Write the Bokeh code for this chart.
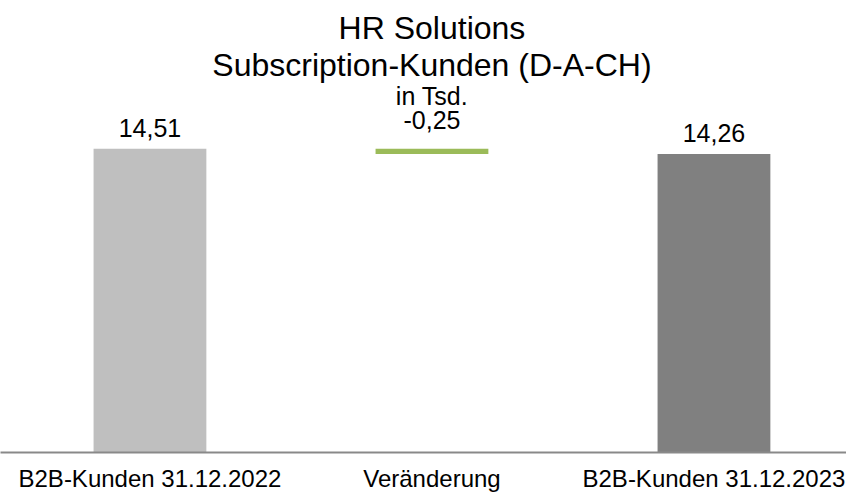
from bokeh.plotting import figure
from bokeh.models import Range1d, FixedTicker, Label, ColumnDataSource
from bokeh.core.properties import value
from bokeh.embed import file_html
from bokeh.resources import INLINE

# ---- data ----
categories = ["B2B-Kunden 31.12.2022", "Veränderung", "B2B-Kunden 31.12.2023"]
start_value = 14.51
change = -0.25
end_value = 14.26
label_texts = ["14,51", "-0,25", "14,26"]
title_lines = ["HR Solutions", "Subscription-Kunden (D-A-CH)", "in Tsd."]

# ---- style ----
FONT = "Liberation Sans"
colors = ["#BFBFBF", "#9BBB59", "#808080"]
label_offsets = [-21, -29, -21]

xs = list(range(len(categories)))
tops = [start_value, start_value, end_value]
bottoms = [0, start_value + change, 0]

src = ColumnDataSource(dict(x=xs, top=tops, bottom=bottoms, color=colors,
                            label=label_texts, off=label_offsets))

p = figure(width=846, height=494, output_backend="svg", toolbar_location=None,
           x_range=Range1d(-0.530, 2.47), y_range=Range1d(0, 21.6),
           min_border_left=0, min_border_right=0, min_border_top=0,
           min_border_bottom=42)
p.title.visible = False
p.outline_line_color = None
p.grid.visible = False
p.yaxis.visible = False

p.vbar(x="x", top="top", bottom="bottom", width=0.40, fill_color="color",
       line_color=None, source=src)
p.text(x="x", y="top", text="label", y_offset="off", source=src,
       text_align="center", text_baseline="alphabetic",
       text_font=value(FONT), text_font_size="25px", text_color="#000000")

ax = p.xaxis[0]
ax.ticker = FixedTicker(ticks=xs)
ax.major_label_overrides = {i: c for i, c in zip(xs, categories)}
ax.major_tick_line_color = None
ax.minor_tick_line_color = None
ax.major_tick_out = 0
ax.major_tick_in = 0
ax.axis_line_color = "#898989"
ax.axis_line_width = 2
ax.major_label_standoff = 12
ax.major_label_text_font = FONT
ax.major_label_text_font_size = "24px"
ax.major_label_text_color = "#000000"

title_y = [425, 388, 357]
title_sizes = ["32px", "32px", "25px"]
for t, y, s in zip(title_lines, title_y, title_sizes):
    p.add_layout(Label(x=1, y=y, x_units="data", y_units="screen", text=t,
                       text_align="center", text_baseline="alphabetic",
                       text_font=FONT, text_font_size=s, text_color="#000000"))

open("out.html", "w").write(file_html(p, INLINE))
